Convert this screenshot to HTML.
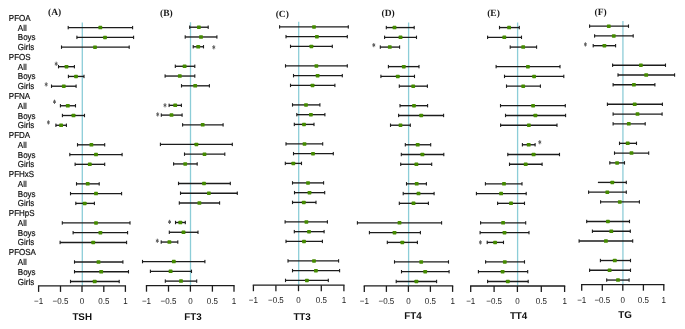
<!DOCTYPE html><html><head><meta charset="utf-8"><style>html,body{margin:0;padding:0;background:#fff;}svg{display:block;will-change:transform;text-rendering:geometricPrecision;}</style></head><body>
<svg width="685" height="329" viewBox="0 0 685 329">
<rect width="685" height="329" fill="#fff"/>
<g font-family="Liberation Sans, sans-serif" font-size="8.0" fill="#111" stroke="#111" stroke-width="0.18">
<text transform="translate(8.8,20.85) scale(1,1.08)">PFOA</text>
<text transform="translate(17.8,30.62) scale(1,1.08)">All</text>
<text transform="translate(17.8,40.38) scale(1,1.08)">Boys</text>
<text transform="translate(17.8,50.14) scale(1,1.08)">Girls</text>
<text transform="translate(8.8,59.91) scale(1,1.08)">PFOS</text>
<text transform="translate(17.8,69.67) scale(1,1.08)">All</text>
<text transform="translate(17.8,79.44) scale(1,1.08)">Boys</text>
<text transform="translate(17.8,89.20) scale(1,1.08)">Girls</text>
<text transform="translate(8.8,98.97) scale(1,1.08)">PFNA</text>
<text transform="translate(17.8,108.73) scale(1,1.08)">All</text>
<text transform="translate(17.8,118.50) scale(1,1.08)">Boys</text>
<text transform="translate(17.8,128.27) scale(1,1.08)">Girls</text>
<text transform="translate(8.8,138.03) scale(1,1.08)">PFDA</text>
<text transform="translate(17.8,147.80) scale(1,1.08)">All</text>
<text transform="translate(17.8,157.56) scale(1,1.08)">Boys</text>
<text transform="translate(17.8,167.33) scale(1,1.08)">Girls</text>
<text transform="translate(8.8,177.09) scale(1,1.08)">PFHxS</text>
<text transform="translate(17.8,186.86) scale(1,1.08)">All</text>
<text transform="translate(17.8,196.62) scale(1,1.08)">Boys</text>
<text transform="translate(17.8,206.39) scale(1,1.08)">Girls</text>
<text transform="translate(8.8,216.15) scale(1,1.08)">PFHpS</text>
<text transform="translate(17.8,225.92) scale(1,1.08)">All</text>
<text transform="translate(17.8,235.68) scale(1,1.08)">Boys</text>
<text transform="translate(17.8,245.45) scale(1,1.08)">Girls</text>
<text transform="translate(8.8,255.21) scale(1,1.08)">PFOSA</text>
<text transform="translate(17.8,264.98) scale(1,1.08)">All</text>
<text transform="translate(17.8,274.74) scale(1,1.08)">Boys</text>
<text transform="translate(17.8,284.51) scale(1,1.08)">Girls</text>
</g>
<line x1="82.30" y1="22.55" x2="82.30" y2="285.90" stroke="#8ccdd8" stroke-width="1.3"/>
<line x1="68.20" y1="27.62" x2="132.60" y2="27.62" stroke="#1c1c1c" stroke-width="1.35"/>
<rect x="67.65" y="25.92" width="1.1" height="3.4" fill="#1c1c1c"/>
<rect x="132.05" y="25.92" width="1.1" height="3.4" fill="#1c1c1c"/>
<rect x="98.40" y="25.87" width="3.8" height="3.5" rx="0.6" fill="#458b00"/>
<line x1="76.90" y1="37.38" x2="133.60" y2="37.38" stroke="#1c1c1c" stroke-width="1.35"/>
<rect x="76.35" y="35.68" width="1.1" height="3.4" fill="#1c1c1c"/>
<rect x="133.05" y="35.68" width="1.1" height="3.4" fill="#1c1c1c"/>
<rect x="103.10" y="35.63" width="3.8" height="3.5" rx="0.6" fill="#458b00"/>
<line x1="61.50" y1="47.15" x2="129.20" y2="47.15" stroke="#1c1c1c" stroke-width="1.35"/>
<rect x="60.95" y="45.45" width="1.1" height="3.4" fill="#1c1c1c"/>
<rect x="128.65" y="45.45" width="1.1" height="3.4" fill="#1c1c1c"/>
<rect x="93.10" y="45.40" width="3.8" height="3.5" rx="0.6" fill="#458b00"/>
<line x1="58.50" y1="66.68" x2="74.40" y2="66.68" stroke="#1c1c1c" stroke-width="1.35"/>
<rect x="57.95" y="64.98" width="1.1" height="3.4" fill="#1c1c1c"/>
<rect x="73.85" y="64.98" width="1.1" height="3.4" fill="#1c1c1c"/>
<rect x="64.60" y="64.93" width="3.8" height="3.5" rx="0.6" fill="#458b00"/>
<line x1="68.40" y1="76.44" x2="84.00" y2="76.44" stroke="#1c1c1c" stroke-width="1.35"/>
<rect x="67.85" y="74.74" width="1.1" height="3.4" fill="#1c1c1c"/>
<rect x="83.45" y="74.74" width="1.1" height="3.4" fill="#1c1c1c"/>
<rect x="74.10" y="74.69" width="3.8" height="3.5" rx="0.6" fill="#458b00"/>
<line x1="51.50" y1="86.21" x2="76.10" y2="86.21" stroke="#1c1c1c" stroke-width="1.35"/>
<rect x="50.95" y="84.51" width="1.1" height="3.4" fill="#1c1c1c"/>
<rect x="75.55" y="84.51" width="1.1" height="3.4" fill="#1c1c1c"/>
<rect x="61.90" y="84.46" width="3.8" height="3.5" rx="0.6" fill="#458b00"/>
<line x1="60.40" y1="105.74" x2="75.50" y2="105.74" stroke="#1c1c1c" stroke-width="1.35"/>
<rect x="59.85" y="104.04" width="1.1" height="3.4" fill="#1c1c1c"/>
<rect x="74.95" y="104.04" width="1.1" height="3.4" fill="#1c1c1c"/>
<rect x="65.90" y="103.99" width="3.8" height="3.5" rx="0.6" fill="#458b00"/>
<line x1="62.40" y1="115.50" x2="84.50" y2="115.50" stroke="#1c1c1c" stroke-width="1.35"/>
<rect x="61.85" y="113.80" width="1.1" height="3.4" fill="#1c1c1c"/>
<rect x="83.95" y="113.80" width="1.1" height="3.4" fill="#1c1c1c"/>
<rect x="71.60" y="113.75" width="3.8" height="3.5" rx="0.6" fill="#458b00"/>
<line x1="55.90" y1="125.27" x2="66.40" y2="125.27" stroke="#1c1c1c" stroke-width="1.35"/>
<rect x="55.35" y="123.57" width="1.1" height="3.4" fill="#1c1c1c"/>
<rect x="65.85" y="123.57" width="1.1" height="3.4" fill="#1c1c1c"/>
<rect x="59.20" y="123.52" width="3.8" height="3.5" rx="0.6" fill="#458b00"/>
<line x1="77.50" y1="144.80" x2="104.70" y2="144.80" stroke="#1c1c1c" stroke-width="1.35"/>
<rect x="76.95" y="143.10" width="1.1" height="3.4" fill="#1c1c1c"/>
<rect x="104.15" y="143.10" width="1.1" height="3.4" fill="#1c1c1c"/>
<rect x="89.50" y="143.05" width="3.8" height="3.5" rx="0.6" fill="#458b00"/>
<line x1="69.80" y1="154.56" x2="122.10" y2="154.56" stroke="#1c1c1c" stroke-width="1.35"/>
<rect x="69.25" y="152.86" width="1.1" height="3.4" fill="#1c1c1c"/>
<rect x="121.55" y="152.86" width="1.1" height="3.4" fill="#1c1c1c"/>
<rect x="94.10" y="152.81" width="3.8" height="3.5" rx="0.6" fill="#458b00"/>
<line x1="75.10" y1="164.33" x2="104.70" y2="164.33" stroke="#1c1c1c" stroke-width="1.35"/>
<rect x="74.55" y="162.63" width="1.1" height="3.4" fill="#1c1c1c"/>
<rect x="104.15" y="162.63" width="1.1" height="3.4" fill="#1c1c1c"/>
<rect x="87.90" y="162.58" width="3.8" height="3.5" rx="0.6" fill="#458b00"/>
<line x1="76.50" y1="183.85" x2="99.20" y2="183.85" stroke="#1c1c1c" stroke-width="1.35"/>
<rect x="75.95" y="182.16" width="1.1" height="3.4" fill="#1c1c1c"/>
<rect x="98.65" y="182.16" width="1.1" height="3.4" fill="#1c1c1c"/>
<rect x="85.80" y="182.10" width="3.8" height="3.5" rx="0.6" fill="#458b00"/>
<line x1="70.50" y1="193.62" x2="121.60" y2="193.62" stroke="#1c1c1c" stroke-width="1.35"/>
<rect x="69.95" y="191.92" width="1.1" height="3.4" fill="#1c1c1c"/>
<rect x="121.05" y="191.92" width="1.1" height="3.4" fill="#1c1c1c"/>
<rect x="94.10" y="191.87" width="3.8" height="3.5" rx="0.6" fill="#458b00"/>
<line x1="75.80" y1="203.39" x2="94.40" y2="203.39" stroke="#1c1c1c" stroke-width="1.35"/>
<rect x="75.25" y="201.69" width="1.1" height="3.4" fill="#1c1c1c"/>
<rect x="93.85" y="201.69" width="1.1" height="3.4" fill="#1c1c1c"/>
<rect x="82.80" y="201.64" width="3.8" height="3.5" rx="0.6" fill="#458b00"/>
<line x1="62.30" y1="222.91" x2="130.00" y2="222.91" stroke="#1c1c1c" stroke-width="1.35"/>
<rect x="61.75" y="221.22" width="1.1" height="3.4" fill="#1c1c1c"/>
<rect x="129.45" y="221.22" width="1.1" height="3.4" fill="#1c1c1c"/>
<rect x="94.10" y="221.16" width="3.8" height="3.5" rx="0.6" fill="#458b00"/>
<line x1="73.10" y1="232.68" x2="127.60" y2="232.68" stroke="#1c1c1c" stroke-width="1.35"/>
<rect x="72.55" y="230.98" width="1.1" height="3.4" fill="#1c1c1c"/>
<rect x="127.05" y="230.98" width="1.1" height="3.4" fill="#1c1c1c"/>
<rect x="98.50" y="230.93" width="3.8" height="3.5" rx="0.6" fill="#458b00"/>
<line x1="60.10" y1="242.45" x2="126.60" y2="242.45" stroke="#1c1c1c" stroke-width="1.35"/>
<rect x="59.55" y="240.75" width="1.1" height="3.4" fill="#1c1c1c"/>
<rect x="126.05" y="240.75" width="1.1" height="3.4" fill="#1c1c1c"/>
<rect x="91.30" y="240.70" width="3.8" height="3.5" rx="0.6" fill="#458b00"/>
<line x1="74.50" y1="261.98" x2="122.90" y2="261.98" stroke="#1c1c1c" stroke-width="1.35"/>
<rect x="73.95" y="260.28" width="1.1" height="3.4" fill="#1c1c1c"/>
<rect x="122.35" y="260.28" width="1.1" height="3.4" fill="#1c1c1c"/>
<rect x="96.60" y="260.23" width="3.8" height="3.5" rx="0.6" fill="#458b00"/>
<line x1="74.50" y1="271.74" x2="128.50" y2="271.74" stroke="#1c1c1c" stroke-width="1.35"/>
<rect x="73.95" y="270.04" width="1.1" height="3.4" fill="#1c1c1c"/>
<rect x="127.95" y="270.04" width="1.1" height="3.4" fill="#1c1c1c"/>
<rect x="99.30" y="269.99" width="3.8" height="3.5" rx="0.6" fill="#458b00"/>
<line x1="70.50" y1="281.51" x2="119.20" y2="281.51" stroke="#1c1c1c" stroke-width="1.35"/>
<rect x="69.95" y="279.81" width="1.1" height="3.4" fill="#1c1c1c"/>
<rect x="118.65" y="279.81" width="1.1" height="3.4" fill="#1c1c1c"/>
<rect x="92.80" y="279.76" width="3.8" height="3.5" rx="0.6" fill="#458b00"/>
<path d="M56.20 61.70L56.20 65.90M54.77 62.97L57.63 64.62M57.63 62.97L54.77 64.62" stroke="#5a5a5a" stroke-width="1.0" fill="none"/>
<path d="M46.20 82.30L46.20 86.50M44.77 83.58L47.63 85.23M47.63 83.58L44.77 85.23" stroke="#5a5a5a" stroke-width="1.0" fill="none"/>
<path d="M54.50 99.70L54.50 103.90M53.07 100.97L55.93 102.62M55.93 100.97L53.07 102.62" stroke="#5a5a5a" stroke-width="1.0" fill="none"/>
<path d="M48.40 120.30L48.40 124.50M46.97 121.58L49.83 123.23M49.83 121.58L46.97 123.23" stroke="#5a5a5a" stroke-width="1.0" fill="none"/>
<line x1="37.95" y1="285.90" x2="126.05" y2="285.90" stroke="#1c1c1c" stroke-width="1.3"/>
<line x1="38.60" y1="285.90" x2="38.60" y2="291.90" stroke="#1c1c1c" stroke-width="1.3"/>
<line x1="60.50" y1="285.90" x2="60.50" y2="291.90" stroke="#1c1c1c" stroke-width="1.3"/>
<line x1="82.00" y1="285.90" x2="82.00" y2="291.90" stroke="#1c1c1c" stroke-width="1.3"/>
<line x1="103.80" y1="285.90" x2="103.80" y2="291.90" stroke="#1c1c1c" stroke-width="1.3"/>
<line x1="125.40" y1="285.90" x2="125.40" y2="291.90" stroke="#1c1c1c" stroke-width="1.3"/>
<text transform="translate(38.60,304.15) scale(1,1.08)" font-family="Liberation Sans, sans-serif" font-size="8.0" fill="#1a1a1a" text-anchor="middle">−1</text>
<text transform="translate(60.50,304.15) scale(1,1.08)" font-family="Liberation Sans, sans-serif" font-size="8.0" fill="#1a1a1a" text-anchor="middle">−0.5</text>
<text transform="translate(82.00,304.15) scale(1,1.08)" font-family="Liberation Sans, sans-serif" font-size="8.0" fill="#1a1a1a" text-anchor="middle">0</text>
<text transform="translate(103.80,304.15) scale(1,1.08)" font-family="Liberation Sans, sans-serif" font-size="8.0" fill="#1a1a1a" text-anchor="middle">0.5</text>
<text transform="translate(125.40,304.15) scale(1,1.08)" font-family="Liberation Sans, sans-serif" font-size="8.0" fill="#1a1a1a" text-anchor="middle">1</text>
<text x="48.00" y="15.35" font-family="Liberation Serif, serif" font-weight="bold" font-size="9.5" fill="#1a1a1a">(A)</text>
<text x="82.20" y="320.00" font-family="Liberation Sans, sans-serif" font-weight="bold" font-size="9.8" fill="#111" text-anchor="middle">TSH</text>
<line x1="190.50" y1="22.15" x2="190.50" y2="285.70" stroke="#8ccdd8" stroke-width="1.3"/>
<line x1="189.70" y1="27.21" x2="208.20" y2="27.21" stroke="#1c1c1c" stroke-width="1.35"/>
<rect x="189.15" y="25.52" width="1.1" height="3.4" fill="#1c1c1c"/>
<rect x="207.65" y="25.52" width="1.1" height="3.4" fill="#1c1c1c"/>
<rect x="197.00" y="25.46" width="3.8" height="3.5" rx="0.6" fill="#458b00"/>
<line x1="185.20" y1="36.98" x2="216.90" y2="36.98" stroke="#1c1c1c" stroke-width="1.35"/>
<rect x="184.65" y="35.28" width="1.1" height="3.4" fill="#1c1c1c"/>
<rect x="216.35" y="35.28" width="1.1" height="3.4" fill="#1c1c1c"/>
<rect x="199.10" y="35.23" width="3.8" height="3.5" rx="0.6" fill="#458b00"/>
<line x1="193.20" y1="46.75" x2="203.50" y2="46.75" stroke="#1c1c1c" stroke-width="1.35"/>
<rect x="192.65" y="45.05" width="1.1" height="3.4" fill="#1c1c1c"/>
<rect x="202.95" y="45.05" width="1.1" height="3.4" fill="#1c1c1c"/>
<rect x="196.30" y="45.00" width="3.8" height="3.5" rx="0.6" fill="#458b00"/>
<line x1="175.30" y1="66.28" x2="194.80" y2="66.28" stroke="#1c1c1c" stroke-width="1.35"/>
<rect x="174.75" y="64.58" width="1.1" height="3.4" fill="#1c1c1c"/>
<rect x="194.25" y="64.58" width="1.1" height="3.4" fill="#1c1c1c"/>
<rect x="182.70" y="64.53" width="3.8" height="3.5" rx="0.6" fill="#458b00"/>
<line x1="165.10" y1="76.04" x2="194.80" y2="76.04" stroke="#1c1c1c" stroke-width="1.35"/>
<rect x="164.55" y="74.34" width="1.1" height="3.4" fill="#1c1c1c"/>
<rect x="194.25" y="74.34" width="1.1" height="3.4" fill="#1c1c1c"/>
<rect x="177.90" y="74.29" width="3.8" height="3.5" rx="0.6" fill="#458b00"/>
<line x1="181.50" y1="85.81" x2="209.40" y2="85.81" stroke="#1c1c1c" stroke-width="1.35"/>
<rect x="180.95" y="84.11" width="1.1" height="3.4" fill="#1c1c1c"/>
<rect x="208.85" y="84.11" width="1.1" height="3.4" fill="#1c1c1c"/>
<rect x="193.30" y="84.06" width="3.8" height="3.5" rx="0.6" fill="#458b00"/>
<line x1="169.10" y1="105.34" x2="181.40" y2="105.34" stroke="#1c1c1c" stroke-width="1.35"/>
<rect x="168.55" y="103.64" width="1.1" height="3.4" fill="#1c1c1c"/>
<rect x="180.85" y="103.64" width="1.1" height="3.4" fill="#1c1c1c"/>
<rect x="173.30" y="103.59" width="3.8" height="3.5" rx="0.6" fill="#458b00"/>
<line x1="161.30" y1="115.10" x2="182.10" y2="115.10" stroke="#1c1c1c" stroke-width="1.35"/>
<rect x="160.75" y="113.40" width="1.1" height="3.4" fill="#1c1c1c"/>
<rect x="181.55" y="113.40" width="1.1" height="3.4" fill="#1c1c1c"/>
<rect x="169.60" y="113.35" width="3.8" height="3.5" rx="0.6" fill="#458b00"/>
<line x1="182.60" y1="124.87" x2="223.10" y2="124.87" stroke="#1c1c1c" stroke-width="1.35"/>
<rect x="182.05" y="123.17" width="1.1" height="3.4" fill="#1c1c1c"/>
<rect x="222.55" y="123.17" width="1.1" height="3.4" fill="#1c1c1c"/>
<rect x="200.80" y="123.12" width="3.8" height="3.5" rx="0.6" fill="#458b00"/>
<line x1="160.40" y1="144.40" x2="232.30" y2="144.40" stroke="#1c1c1c" stroke-width="1.35"/>
<rect x="159.85" y="142.70" width="1.1" height="3.4" fill="#1c1c1c"/>
<rect x="231.75" y="142.70" width="1.1" height="3.4" fill="#1c1c1c"/>
<rect x="194.50" y="142.65" width="3.8" height="3.5" rx="0.6" fill="#458b00"/>
<line x1="184.50" y1="154.16" x2="224.80" y2="154.16" stroke="#1c1c1c" stroke-width="1.35"/>
<rect x="183.95" y="152.46" width="1.1" height="3.4" fill="#1c1c1c"/>
<rect x="224.25" y="152.46" width="1.1" height="3.4" fill="#1c1c1c"/>
<rect x="202.60" y="152.41" width="3.8" height="3.5" rx="0.6" fill="#458b00"/>
<line x1="173.60" y1="163.93" x2="197.20" y2="163.93" stroke="#1c1c1c" stroke-width="1.35"/>
<rect x="173.05" y="162.23" width="1.1" height="3.4" fill="#1c1c1c"/>
<rect x="196.65" y="162.23" width="1.1" height="3.4" fill="#1c1c1c"/>
<rect x="183.30" y="162.18" width="3.8" height="3.5" rx="0.6" fill="#458b00"/>
<line x1="178.50" y1="183.45" x2="230.30" y2="183.45" stroke="#1c1c1c" stroke-width="1.35"/>
<rect x="177.95" y="181.75" width="1.1" height="3.4" fill="#1c1c1c"/>
<rect x="229.75" y="181.75" width="1.1" height="3.4" fill="#1c1c1c"/>
<rect x="202.10" y="181.70" width="3.8" height="3.5" rx="0.6" fill="#458b00"/>
<line x1="180.50" y1="193.22" x2="237.30" y2="193.22" stroke="#1c1c1c" stroke-width="1.35"/>
<rect x="179.95" y="191.52" width="1.1" height="3.4" fill="#1c1c1c"/>
<rect x="236.75" y="191.52" width="1.1" height="3.4" fill="#1c1c1c"/>
<rect x="207.00" y="191.47" width="3.8" height="3.5" rx="0.6" fill="#458b00"/>
<line x1="179.30" y1="202.99" x2="219.60" y2="202.99" stroke="#1c1c1c" stroke-width="1.35"/>
<rect x="178.75" y="201.29" width="1.1" height="3.4" fill="#1c1c1c"/>
<rect x="219.05" y="201.29" width="1.1" height="3.4" fill="#1c1c1c"/>
<rect x="197.50" y="201.24" width="3.8" height="3.5" rx="0.6" fill="#458b00"/>
<line x1="175.50" y1="222.51" x2="185.30" y2="222.51" stroke="#1c1c1c" stroke-width="1.35"/>
<rect x="174.95" y="220.81" width="1.1" height="3.4" fill="#1c1c1c"/>
<rect x="184.75" y="220.81" width="1.1" height="3.4" fill="#1c1c1c"/>
<rect x="178.40" y="220.76" width="3.8" height="3.5" rx="0.6" fill="#458b00"/>
<line x1="169.30" y1="232.28" x2="198.00" y2="232.28" stroke="#1c1c1c" stroke-width="1.35"/>
<rect x="168.75" y="230.58" width="1.1" height="3.4" fill="#1c1c1c"/>
<rect x="197.45" y="230.58" width="1.1" height="3.4" fill="#1c1c1c"/>
<rect x="181.60" y="230.53" width="3.8" height="3.5" rx="0.6" fill="#458b00"/>
<line x1="161.20" y1="242.05" x2="177.80" y2="242.05" stroke="#1c1c1c" stroke-width="1.35"/>
<rect x="160.65" y="240.35" width="1.1" height="3.4" fill="#1c1c1c"/>
<rect x="177.25" y="240.35" width="1.1" height="3.4" fill="#1c1c1c"/>
<rect x="167.50" y="240.30" width="3.8" height="3.5" rx="0.6" fill="#458b00"/>
<line x1="142.50" y1="261.57" x2="204.90" y2="261.57" stroke="#1c1c1c" stroke-width="1.35"/>
<rect x="141.95" y="259.88" width="1.1" height="3.4" fill="#1c1c1c"/>
<rect x="204.35" y="259.88" width="1.1" height="3.4" fill="#1c1c1c"/>
<rect x="171.90" y="259.82" width="3.8" height="3.5" rx="0.6" fill="#458b00"/>
<line x1="150.40" y1="271.34" x2="191.50" y2="271.34" stroke="#1c1c1c" stroke-width="1.35"/>
<rect x="149.85" y="269.64" width="1.1" height="3.4" fill="#1c1c1c"/>
<rect x="190.95" y="269.64" width="1.1" height="3.4" fill="#1c1c1c"/>
<rect x="168.70" y="269.59" width="3.8" height="3.5" rx="0.6" fill="#458b00"/>
<line x1="165.30" y1="281.11" x2="196.70" y2="281.11" stroke="#1c1c1c" stroke-width="1.35"/>
<rect x="164.75" y="279.41" width="1.1" height="3.4" fill="#1c1c1c"/>
<rect x="196.15" y="279.41" width="1.1" height="3.4" fill="#1c1c1c"/>
<rect x="179.10" y="279.36" width="3.8" height="3.5" rx="0.6" fill="#458b00"/>
<path d="M213.80 45.20L213.80 49.40M212.37 46.47L215.23 48.12M215.23 46.47L212.37 48.12" stroke="#5a5a5a" stroke-width="1.0" fill="none"/>
<path d="M165.00 103.20L165.00 107.40M163.57 104.47L166.43 106.12M166.43 104.47L163.57 106.12" stroke="#5a5a5a" stroke-width="1.0" fill="none"/>
<path d="M157.70 112.30L157.70 116.50M156.27 113.58L159.13 115.23M159.13 113.58L156.27 115.23" stroke="#5a5a5a" stroke-width="1.0" fill="none"/>
<path d="M169.60 219.80L169.60 224.00M168.17 221.08L171.03 222.72M171.03 221.08L168.17 222.72" stroke="#5a5a5a" stroke-width="1.0" fill="none"/>
<path d="M157.30 238.70L157.30 242.90M155.87 239.98L158.73 241.62M158.73 239.98L155.87 241.62" stroke="#5a5a5a" stroke-width="1.0" fill="none"/>
<line x1="145.85" y1="285.70" x2="234.65" y2="285.70" stroke="#1c1c1c" stroke-width="1.3"/>
<line x1="146.50" y1="285.70" x2="146.50" y2="291.70" stroke="#1c1c1c" stroke-width="1.3"/>
<line x1="168.50" y1="285.70" x2="168.50" y2="291.70" stroke="#1c1c1c" stroke-width="1.3"/>
<line x1="190.40" y1="285.70" x2="190.40" y2="291.70" stroke="#1c1c1c" stroke-width="1.3"/>
<line x1="212.40" y1="285.70" x2="212.40" y2="291.70" stroke="#1c1c1c" stroke-width="1.3"/>
<line x1="234.00" y1="285.70" x2="234.00" y2="291.70" stroke="#1c1c1c" stroke-width="1.3"/>
<text transform="translate(146.50,303.95) scale(1,1.08)" font-family="Liberation Sans, sans-serif" font-size="8.0" fill="#1a1a1a" text-anchor="middle">−1</text>
<text transform="translate(168.50,303.95) scale(1,1.08)" font-family="Liberation Sans, sans-serif" font-size="8.0" fill="#1a1a1a" text-anchor="middle">−0.5</text>
<text transform="translate(190.40,303.95) scale(1,1.08)" font-family="Liberation Sans, sans-serif" font-size="8.0" fill="#1a1a1a" text-anchor="middle">0</text>
<text transform="translate(212.40,303.95) scale(1,1.08)" font-family="Liberation Sans, sans-serif" font-size="8.0" fill="#1a1a1a" text-anchor="middle">0.5</text>
<text transform="translate(234.00,303.95) scale(1,1.08)" font-family="Liberation Sans, sans-serif" font-size="8.0" fill="#1a1a1a" text-anchor="middle">1</text>
<text x="160.00" y="15.85" font-family="Liberation Serif, serif" font-weight="bold" font-size="9.5" fill="#1a1a1a">(B)</text>
<text x="193.00" y="320.20" font-family="Liberation Sans, sans-serif" font-weight="bold" font-size="9.8" fill="#111" text-anchor="middle">FT3</text>
<line x1="298.70" y1="21.85" x2="298.70" y2="285.20" stroke="#8ccdd8" stroke-width="1.3"/>
<line x1="279.60" y1="26.90" x2="348.30" y2="26.90" stroke="#1c1c1c" stroke-width="1.35"/>
<rect x="279.05" y="25.20" width="1.1" height="3.4" fill="#1c1c1c"/>
<rect x="347.75" y="25.20" width="1.1" height="3.4" fill="#1c1c1c"/>
<rect x="312.10" y="25.15" width="3.8" height="3.5" rx="0.6" fill="#458b00"/>
<line x1="286.00" y1="36.65" x2="347.30" y2="36.65" stroke="#1c1c1c" stroke-width="1.35"/>
<rect x="285.45" y="34.95" width="1.1" height="3.4" fill="#1c1c1c"/>
<rect x="346.75" y="34.95" width="1.1" height="3.4" fill="#1c1c1c"/>
<rect x="315.00" y="34.90" width="3.8" height="3.5" rx="0.6" fill="#458b00"/>
<line x1="290.50" y1="46.40" x2="332.30" y2="46.40" stroke="#1c1c1c" stroke-width="1.35"/>
<rect x="289.95" y="44.70" width="1.1" height="3.4" fill="#1c1c1c"/>
<rect x="331.75" y="44.70" width="1.1" height="3.4" fill="#1c1c1c"/>
<rect x="309.50" y="44.65" width="3.8" height="3.5" rx="0.6" fill="#458b00"/>
<line x1="285.50" y1="65.90" x2="347.30" y2="65.90" stroke="#1c1c1c" stroke-width="1.35"/>
<rect x="284.95" y="64.20" width="1.1" height="3.4" fill="#1c1c1c"/>
<rect x="346.75" y="64.20" width="1.1" height="3.4" fill="#1c1c1c"/>
<rect x="314.50" y="64.15" width="3.8" height="3.5" rx="0.6" fill="#458b00"/>
<line x1="293.50" y1="75.65" x2="342.30" y2="75.65" stroke="#1c1c1c" stroke-width="1.35"/>
<rect x="292.95" y="73.95" width="1.1" height="3.4" fill="#1c1c1c"/>
<rect x="341.75" y="73.95" width="1.1" height="3.4" fill="#1c1c1c"/>
<rect x="315.70" y="73.90" width="3.8" height="3.5" rx="0.6" fill="#458b00"/>
<line x1="290.50" y1="85.40" x2="334.90" y2="85.40" stroke="#1c1c1c" stroke-width="1.35"/>
<rect x="289.95" y="83.70" width="1.1" height="3.4" fill="#1c1c1c"/>
<rect x="334.35" y="83.70" width="1.1" height="3.4" fill="#1c1c1c"/>
<rect x="310.60" y="83.65" width="3.8" height="3.5" rx="0.6" fill="#458b00"/>
<line x1="292.50" y1="104.90" x2="319.90" y2="104.90" stroke="#1c1c1c" stroke-width="1.35"/>
<rect x="291.95" y="103.20" width="1.1" height="3.4" fill="#1c1c1c"/>
<rect x="319.35" y="103.20" width="1.1" height="3.4" fill="#1c1c1c"/>
<rect x="304.10" y="103.15" width="3.8" height="3.5" rx="0.6" fill="#458b00"/>
<line x1="296.80" y1="114.65" x2="324.90" y2="114.65" stroke="#1c1c1c" stroke-width="1.35"/>
<rect x="296.25" y="112.95" width="1.1" height="3.4" fill="#1c1c1c"/>
<rect x="324.35" y="112.95" width="1.1" height="3.4" fill="#1c1c1c"/>
<rect x="309.00" y="112.90" width="3.8" height="3.5" rx="0.6" fill="#458b00"/>
<line x1="294.30" y1="124.40" x2="314.00" y2="124.40" stroke="#1c1c1c" stroke-width="1.35"/>
<rect x="293.75" y="122.70" width="1.1" height="3.4" fill="#1c1c1c"/>
<rect x="313.45" y="122.70" width="1.1" height="3.4" fill="#1c1c1c"/>
<rect x="302.10" y="122.65" width="3.8" height="3.5" rx="0.6" fill="#458b00"/>
<line x1="286.00" y1="143.90" x2="322.70" y2="143.90" stroke="#1c1c1c" stroke-width="1.35"/>
<rect x="285.45" y="142.20" width="1.1" height="3.4" fill="#1c1c1c"/>
<rect x="322.15" y="142.20" width="1.1" height="3.4" fill="#1c1c1c"/>
<rect x="302.60" y="142.15" width="3.8" height="3.5" rx="0.6" fill="#458b00"/>
<line x1="293.50" y1="153.65" x2="333.30" y2="153.65" stroke="#1c1c1c" stroke-width="1.35"/>
<rect x="292.95" y="151.95" width="1.1" height="3.4" fill="#1c1c1c"/>
<rect x="332.75" y="151.95" width="1.1" height="3.4" fill="#1c1c1c"/>
<rect x="311.10" y="151.90" width="3.8" height="3.5" rx="0.6" fill="#458b00"/>
<line x1="285.30" y1="163.40" x2="301.50" y2="163.40" stroke="#1c1c1c" stroke-width="1.35"/>
<rect x="284.75" y="161.70" width="1.1" height="3.4" fill="#1c1c1c"/>
<rect x="300.95" y="161.70" width="1.1" height="3.4" fill="#1c1c1c"/>
<rect x="291.40" y="161.65" width="3.8" height="3.5" rx="0.6" fill="#458b00"/>
<line x1="292.50" y1="182.90" x2="323.60" y2="182.90" stroke="#1c1c1c" stroke-width="1.35"/>
<rect x="291.95" y="181.20" width="1.1" height="3.4" fill="#1c1c1c"/>
<rect x="323.05" y="181.20" width="1.1" height="3.4" fill="#1c1c1c"/>
<rect x="306.10" y="181.15" width="3.8" height="3.5" rx="0.6" fill="#458b00"/>
<line x1="294.50" y1="192.65" x2="324.70" y2="192.65" stroke="#1c1c1c" stroke-width="1.35"/>
<rect x="293.95" y="190.95" width="1.1" height="3.4" fill="#1c1c1c"/>
<rect x="324.15" y="190.95" width="1.1" height="3.4" fill="#1c1c1c"/>
<rect x="307.60" y="190.90" width="3.8" height="3.5" rx="0.6" fill="#458b00"/>
<line x1="292.50" y1="202.40" x2="316.00" y2="202.40" stroke="#1c1c1c" stroke-width="1.35"/>
<rect x="291.95" y="200.70" width="1.1" height="3.4" fill="#1c1c1c"/>
<rect x="315.45" y="200.70" width="1.1" height="3.4" fill="#1c1c1c"/>
<rect x="301.90" y="200.65" width="3.8" height="3.5" rx="0.6" fill="#458b00"/>
<line x1="285.10" y1="221.90" x2="327.40" y2="221.90" stroke="#1c1c1c" stroke-width="1.35"/>
<rect x="284.55" y="220.20" width="1.1" height="3.4" fill="#1c1c1c"/>
<rect x="326.85" y="220.20" width="1.1" height="3.4" fill="#1c1c1c"/>
<rect x="304.50" y="220.15" width="3.8" height="3.5" rx="0.6" fill="#458b00"/>
<line x1="294.30" y1="231.65" x2="324.10" y2="231.65" stroke="#1c1c1c" stroke-width="1.35"/>
<rect x="293.75" y="229.95" width="1.1" height="3.4" fill="#1c1c1c"/>
<rect x="323.55" y="229.95" width="1.1" height="3.4" fill="#1c1c1c"/>
<rect x="307.10" y="229.90" width="3.8" height="3.5" rx="0.6" fill="#458b00"/>
<line x1="286.00" y1="241.40" x2="322.40" y2="241.40" stroke="#1c1c1c" stroke-width="1.35"/>
<rect x="285.45" y="239.70" width="1.1" height="3.4" fill="#1c1c1c"/>
<rect x="321.85" y="239.70" width="1.1" height="3.4" fill="#1c1c1c"/>
<rect x="302.10" y="239.65" width="3.8" height="3.5" rx="0.6" fill="#458b00"/>
<line x1="288.00" y1="260.90" x2="338.60" y2="260.90" stroke="#1c1c1c" stroke-width="1.35"/>
<rect x="287.45" y="259.20" width="1.1" height="3.4" fill="#1c1c1c"/>
<rect x="338.05" y="259.20" width="1.1" height="3.4" fill="#1c1c1c"/>
<rect x="312.10" y="259.15" width="3.8" height="3.5" rx="0.6" fill="#458b00"/>
<line x1="292.50" y1="270.65" x2="339.60" y2="270.65" stroke="#1c1c1c" stroke-width="1.35"/>
<rect x="291.95" y="268.95" width="1.1" height="3.4" fill="#1c1c1c"/>
<rect x="339.05" y="268.95" width="1.1" height="3.4" fill="#1c1c1c"/>
<rect x="314.00" y="268.90" width="3.8" height="3.5" rx="0.6" fill="#458b00"/>
<line x1="285.50" y1="280.40" x2="328.30" y2="280.40" stroke="#1c1c1c" stroke-width="1.35"/>
<rect x="284.95" y="278.70" width="1.1" height="3.4" fill="#1c1c1c"/>
<rect x="327.75" y="278.70" width="1.1" height="3.4" fill="#1c1c1c"/>
<rect x="305.00" y="278.65" width="3.8" height="3.5" rx="0.6" fill="#458b00"/>
<line x1="252.75" y1="285.20" x2="344.55" y2="285.20" stroke="#1c1c1c" stroke-width="1.3"/>
<line x1="253.40" y1="285.20" x2="253.40" y2="291.20" stroke="#1c1c1c" stroke-width="1.3"/>
<line x1="275.90" y1="285.20" x2="275.90" y2="291.20" stroke="#1c1c1c" stroke-width="1.3"/>
<line x1="298.50" y1="285.20" x2="298.50" y2="291.20" stroke="#1c1c1c" stroke-width="1.3"/>
<line x1="321.30" y1="285.20" x2="321.30" y2="291.20" stroke="#1c1c1c" stroke-width="1.3"/>
<line x1="343.90" y1="285.20" x2="343.90" y2="291.20" stroke="#1c1c1c" stroke-width="1.3"/>
<text transform="translate(253.40,303.45) scale(1,1.08)" font-family="Liberation Sans, sans-serif" font-size="8.0" fill="#1a1a1a" text-anchor="middle">−1</text>
<text transform="translate(275.90,303.45) scale(1,1.08)" font-family="Liberation Sans, sans-serif" font-size="8.0" fill="#1a1a1a" text-anchor="middle">−0.5</text>
<text transform="translate(298.50,303.45) scale(1,1.08)" font-family="Liberation Sans, sans-serif" font-size="8.0" fill="#1a1a1a" text-anchor="middle">0</text>
<text transform="translate(321.30,303.45) scale(1,1.08)" font-family="Liberation Sans, sans-serif" font-size="8.0" fill="#1a1a1a" text-anchor="middle">0.5</text>
<text transform="translate(343.90,303.45) scale(1,1.08)" font-family="Liberation Sans, sans-serif" font-size="8.0" fill="#1a1a1a" text-anchor="middle">1</text>
<text x="275.70" y="16.85" font-family="Liberation Serif, serif" font-weight="bold" font-size="9.5" fill="#1a1a1a">(C)</text>
<text x="302.10" y="319.90" font-family="Liberation Sans, sans-serif" font-weight="bold" font-size="9.8" fill="#111" text-anchor="middle">TT3</text>
<line x1="408.60" y1="22.50" x2="408.60" y2="285.90" stroke="#8ccdd8" stroke-width="1.3"/>
<line x1="386.30" y1="27.57" x2="414.20" y2="27.57" stroke="#1c1c1c" stroke-width="1.35"/>
<rect x="385.75" y="25.87" width="1.1" height="3.4" fill="#1c1c1c"/>
<rect x="413.65" y="25.87" width="1.1" height="3.4" fill="#1c1c1c"/>
<rect x="392.60" y="25.82" width="3.8" height="3.5" rx="0.6" fill="#458b00"/>
<line x1="384.60" y1="37.33" x2="416.50" y2="37.33" stroke="#1c1c1c" stroke-width="1.35"/>
<rect x="384.05" y="35.63" width="1.1" height="3.4" fill="#1c1c1c"/>
<rect x="415.95" y="35.63" width="1.1" height="3.4" fill="#1c1c1c"/>
<rect x="398.60" y="35.58" width="3.8" height="3.5" rx="0.6" fill="#458b00"/>
<line x1="380.30" y1="47.09" x2="399.60" y2="47.09" stroke="#1c1c1c" stroke-width="1.35"/>
<rect x="379.75" y="45.39" width="1.1" height="3.4" fill="#1c1c1c"/>
<rect x="399.05" y="45.39" width="1.1" height="3.4" fill="#1c1c1c"/>
<rect x="387.90" y="45.34" width="3.8" height="3.5" rx="0.6" fill="#458b00"/>
<line x1="388.40" y1="66.62" x2="419.00" y2="66.62" stroke="#1c1c1c" stroke-width="1.35"/>
<rect x="387.85" y="64.92" width="1.1" height="3.4" fill="#1c1c1c"/>
<rect x="418.45" y="64.92" width="1.1" height="3.4" fill="#1c1c1c"/>
<rect x="401.90" y="64.88" width="3.8" height="3.5" rx="0.6" fill="#458b00"/>
<line x1="380.90" y1="76.39" x2="414.50" y2="76.39" stroke="#1c1c1c" stroke-width="1.35"/>
<rect x="380.35" y="74.69" width="1.1" height="3.4" fill="#1c1c1c"/>
<rect x="413.95" y="74.69" width="1.1" height="3.4" fill="#1c1c1c"/>
<rect x="395.90" y="74.64" width="3.8" height="3.5" rx="0.6" fill="#458b00"/>
<line x1="399.30" y1="86.16" x2="427.40" y2="86.16" stroke="#1c1c1c" stroke-width="1.35"/>
<rect x="398.75" y="84.45" width="1.1" height="3.4" fill="#1c1c1c"/>
<rect x="426.85" y="84.45" width="1.1" height="3.4" fill="#1c1c1c"/>
<rect x="411.30" y="84.41" width="3.8" height="3.5" rx="0.6" fill="#458b00"/>
<line x1="400.00" y1="105.69" x2="427.60" y2="105.69" stroke="#1c1c1c" stroke-width="1.35"/>
<rect x="399.45" y="103.98" width="1.1" height="3.4" fill="#1c1c1c"/>
<rect x="427.05" y="103.98" width="1.1" height="3.4" fill="#1c1c1c"/>
<rect x="412.10" y="103.94" width="3.8" height="3.5" rx="0.6" fill="#458b00"/>
<line x1="398.60" y1="115.45" x2="443.60" y2="115.45" stroke="#1c1c1c" stroke-width="1.35"/>
<rect x="398.05" y="113.75" width="1.1" height="3.4" fill="#1c1c1c"/>
<rect x="443.05" y="113.75" width="1.1" height="3.4" fill="#1c1c1c"/>
<rect x="419.30" y="113.70" width="3.8" height="3.5" rx="0.6" fill="#458b00"/>
<line x1="390.50" y1="125.22" x2="410.30" y2="125.22" stroke="#1c1c1c" stroke-width="1.35"/>
<rect x="389.95" y="123.52" width="1.1" height="3.4" fill="#1c1c1c"/>
<rect x="409.75" y="123.52" width="1.1" height="3.4" fill="#1c1c1c"/>
<rect x="398.60" y="123.47" width="3.8" height="3.5" rx="0.6" fill="#458b00"/>
<line x1="405.30" y1="144.75" x2="430.70" y2="144.75" stroke="#1c1c1c" stroke-width="1.35"/>
<rect x="404.75" y="143.05" width="1.1" height="3.4" fill="#1c1c1c"/>
<rect x="430.15" y="143.05" width="1.1" height="3.4" fill="#1c1c1c"/>
<rect x="415.80" y="143.00" width="3.8" height="3.5" rx="0.6" fill="#458b00"/>
<line x1="401.30" y1="154.51" x2="443.80" y2="154.51" stroke="#1c1c1c" stroke-width="1.35"/>
<rect x="400.75" y="152.81" width="1.1" height="3.4" fill="#1c1c1c"/>
<rect x="443.25" y="152.81" width="1.1" height="3.4" fill="#1c1c1c"/>
<rect x="420.50" y="152.76" width="3.8" height="3.5" rx="0.6" fill="#458b00"/>
<line x1="400.70" y1="164.28" x2="431.70" y2="164.28" stroke="#1c1c1c" stroke-width="1.35"/>
<rect x="400.15" y="162.58" width="1.1" height="3.4" fill="#1c1c1c"/>
<rect x="431.15" y="162.58" width="1.1" height="3.4" fill="#1c1c1c"/>
<rect x="414.50" y="162.53" width="3.8" height="3.5" rx="0.6" fill="#458b00"/>
<line x1="406.50" y1="183.81" x2="426.40" y2="183.81" stroke="#1c1c1c" stroke-width="1.35"/>
<rect x="405.95" y="182.11" width="1.1" height="3.4" fill="#1c1c1c"/>
<rect x="425.85" y="182.11" width="1.1" height="3.4" fill="#1c1c1c"/>
<rect x="414.80" y="182.06" width="3.8" height="3.5" rx="0.6" fill="#458b00"/>
<line x1="403.20" y1="193.57" x2="434.10" y2="193.57" stroke="#1c1c1c" stroke-width="1.35"/>
<rect x="402.65" y="191.87" width="1.1" height="3.4" fill="#1c1c1c"/>
<rect x="433.55" y="191.87" width="1.1" height="3.4" fill="#1c1c1c"/>
<rect x="416.60" y="191.82" width="3.8" height="3.5" rx="0.6" fill="#458b00"/>
<line x1="399.30" y1="203.34" x2="428.40" y2="203.34" stroke="#1c1c1c" stroke-width="1.35"/>
<rect x="398.75" y="201.64" width="1.1" height="3.4" fill="#1c1c1c"/>
<rect x="427.85" y="201.64" width="1.1" height="3.4" fill="#1c1c1c"/>
<rect x="411.60" y="201.59" width="3.8" height="3.5" rx="0.6" fill="#458b00"/>
<line x1="357.40" y1="222.87" x2="441.60" y2="222.87" stroke="#1c1c1c" stroke-width="1.35"/>
<rect x="356.85" y="221.17" width="1.1" height="3.4" fill="#1c1c1c"/>
<rect x="441.05" y="221.17" width="1.1" height="3.4" fill="#1c1c1c"/>
<rect x="397.60" y="221.12" width="3.8" height="3.5" rx="0.6" fill="#458b00"/>
<line x1="369.40" y1="232.63" x2="420.40" y2="232.63" stroke="#1c1c1c" stroke-width="1.35"/>
<rect x="368.85" y="230.93" width="1.1" height="3.4" fill="#1c1c1c"/>
<rect x="419.85" y="230.93" width="1.1" height="3.4" fill="#1c1c1c"/>
<rect x="392.60" y="230.88" width="3.8" height="3.5" rx="0.6" fill="#458b00"/>
<line x1="387.30" y1="242.40" x2="417.40" y2="242.40" stroke="#1c1c1c" stroke-width="1.35"/>
<rect x="386.75" y="240.70" width="1.1" height="3.4" fill="#1c1c1c"/>
<rect x="416.85" y="240.70" width="1.1" height="3.4" fill="#1c1c1c"/>
<rect x="400.40" y="240.65" width="3.8" height="3.5" rx="0.6" fill="#458b00"/>
<line x1="394.50" y1="261.93" x2="448.50" y2="261.93" stroke="#1c1c1c" stroke-width="1.35"/>
<rect x="393.95" y="260.23" width="1.1" height="3.4" fill="#1c1c1c"/>
<rect x="447.95" y="260.23" width="1.1" height="3.4" fill="#1c1c1c"/>
<rect x="419.30" y="260.18" width="3.8" height="3.5" rx="0.6" fill="#458b00"/>
<line x1="401.50" y1="271.69" x2="449.10" y2="271.69" stroke="#1c1c1c" stroke-width="1.35"/>
<rect x="400.95" y="269.99" width="1.1" height="3.4" fill="#1c1c1c"/>
<rect x="448.55" y="269.99" width="1.1" height="3.4" fill="#1c1c1c"/>
<rect x="423.30" y="269.94" width="3.8" height="3.5" rx="0.6" fill="#458b00"/>
<line x1="396.20" y1="281.46" x2="436.60" y2="281.46" stroke="#1c1c1c" stroke-width="1.35"/>
<rect x="395.65" y="279.76" width="1.1" height="3.4" fill="#1c1c1c"/>
<rect x="436.05" y="279.76" width="1.1" height="3.4" fill="#1c1c1c"/>
<rect x="414.50" y="279.71" width="3.8" height="3.5" rx="0.6" fill="#458b00"/>
<path d="M373.80 43.00L373.80 47.20M372.37 44.27L375.23 45.93M375.23 44.27L372.37 45.93" stroke="#5a5a5a" stroke-width="1.0" fill="none"/>
<line x1="363.65" y1="285.90" x2="453.25" y2="285.90" stroke="#1c1c1c" stroke-width="1.3"/>
<line x1="364.30" y1="285.90" x2="364.30" y2="291.90" stroke="#1c1c1c" stroke-width="1.3"/>
<line x1="386.40" y1="285.90" x2="386.40" y2="291.90" stroke="#1c1c1c" stroke-width="1.3"/>
<line x1="408.40" y1="285.90" x2="408.40" y2="291.90" stroke="#1c1c1c" stroke-width="1.3"/>
<line x1="430.40" y1="285.90" x2="430.40" y2="291.90" stroke="#1c1c1c" stroke-width="1.3"/>
<line x1="452.60" y1="285.90" x2="452.60" y2="291.90" stroke="#1c1c1c" stroke-width="1.3"/>
<text transform="translate(364.30,304.15) scale(1,1.08)" font-family="Liberation Sans, sans-serif" font-size="8.0" fill="#1a1a1a" text-anchor="middle">−1</text>
<text transform="translate(386.40,304.15) scale(1,1.08)" font-family="Liberation Sans, sans-serif" font-size="8.0" fill="#1a1a1a" text-anchor="middle">−0.5</text>
<text transform="translate(408.40,304.15) scale(1,1.08)" font-family="Liberation Sans, sans-serif" font-size="8.0" fill="#1a1a1a" text-anchor="middle">0</text>
<text transform="translate(430.40,304.15) scale(1,1.08)" font-family="Liberation Sans, sans-serif" font-size="8.0" fill="#1a1a1a" text-anchor="middle">0.5</text>
<text transform="translate(452.60,304.15) scale(1,1.08)" font-family="Liberation Sans, sans-serif" font-size="8.0" fill="#1a1a1a" text-anchor="middle">1</text>
<text x="381.50" y="16.25" font-family="Liberation Serif, serif" font-weight="bold" font-size="9.5" fill="#1a1a1a">(D)</text>
<text x="413.00" y="319.40" font-family="Liberation Sans, sans-serif" font-weight="bold" font-size="9.8" fill="#111" text-anchor="middle">FT4</text>
<line x1="517.60" y1="22.50" x2="517.60" y2="286.00" stroke="#8ccdd8" stroke-width="1.3"/>
<line x1="499.50" y1="27.57" x2="519.30" y2="27.57" stroke="#1c1c1c" stroke-width="1.35"/>
<rect x="498.95" y="25.87" width="1.1" height="3.4" fill="#1c1c1c"/>
<rect x="518.75" y="25.87" width="1.1" height="3.4" fill="#1c1c1c"/>
<rect x="507.20" y="25.82" width="3.8" height="3.5" rx="0.6" fill="#458b00"/>
<line x1="487.60" y1="37.33" x2="521.50" y2="37.33" stroke="#1c1c1c" stroke-width="1.35"/>
<rect x="487.05" y="35.63" width="1.1" height="3.4" fill="#1c1c1c"/>
<rect x="520.95" y="35.63" width="1.1" height="3.4" fill="#1c1c1c"/>
<rect x="502.40" y="35.58" width="3.8" height="3.5" rx="0.6" fill="#458b00"/>
<line x1="510.20" y1="47.09" x2="536.60" y2="47.09" stroke="#1c1c1c" stroke-width="1.35"/>
<rect x="509.65" y="45.39" width="1.1" height="3.4" fill="#1c1c1c"/>
<rect x="536.05" y="45.39" width="1.1" height="3.4" fill="#1c1c1c"/>
<rect x="521.30" y="45.34" width="3.8" height="3.5" rx="0.6" fill="#458b00"/>
<line x1="496.10" y1="66.62" x2="560.00" y2="66.62" stroke="#1c1c1c" stroke-width="1.35"/>
<rect x="495.55" y="64.92" width="1.1" height="3.4" fill="#1c1c1c"/>
<rect x="559.45" y="64.92" width="1.1" height="3.4" fill="#1c1c1c"/>
<rect x="526.00" y="64.88" width="3.8" height="3.5" rx="0.6" fill="#458b00"/>
<line x1="504.50" y1="76.39" x2="563.80" y2="76.39" stroke="#1c1c1c" stroke-width="1.35"/>
<rect x="503.95" y="74.69" width="1.1" height="3.4" fill="#1c1c1c"/>
<rect x="563.25" y="74.69" width="1.1" height="3.4" fill="#1c1c1c"/>
<rect x="532.20" y="74.64" width="3.8" height="3.5" rx="0.6" fill="#458b00"/>
<line x1="506.50" y1="86.16" x2="540.40" y2="86.16" stroke="#1c1c1c" stroke-width="1.35"/>
<rect x="505.95" y="84.45" width="1.1" height="3.4" fill="#1c1c1c"/>
<rect x="539.85" y="84.45" width="1.1" height="3.4" fill="#1c1c1c"/>
<rect x="521.30" y="84.41" width="3.8" height="3.5" rx="0.6" fill="#458b00"/>
<line x1="500.50" y1="105.69" x2="565.30" y2="105.69" stroke="#1c1c1c" stroke-width="1.35"/>
<rect x="499.95" y="103.98" width="1.1" height="3.4" fill="#1c1c1c"/>
<rect x="564.75" y="103.98" width="1.1" height="3.4" fill="#1c1c1c"/>
<rect x="531.20" y="103.94" width="3.8" height="3.5" rx="0.6" fill="#458b00"/>
<line x1="505.50" y1="115.45" x2="565.60" y2="115.45" stroke="#1c1c1c" stroke-width="1.35"/>
<rect x="504.95" y="113.75" width="1.1" height="3.4" fill="#1c1c1c"/>
<rect x="565.05" y="113.75" width="1.1" height="3.4" fill="#1c1c1c"/>
<rect x="533.50" y="113.70" width="3.8" height="3.5" rx="0.6" fill="#458b00"/>
<line x1="500.60" y1="125.22" x2="557.00" y2="125.22" stroke="#1c1c1c" stroke-width="1.35"/>
<rect x="500.05" y="123.52" width="1.1" height="3.4" fill="#1c1c1c"/>
<rect x="556.45" y="123.52" width="1.1" height="3.4" fill="#1c1c1c"/>
<rect x="527.00" y="123.47" width="3.8" height="3.5" rx="0.6" fill="#458b00"/>
<line x1="522.40" y1="144.75" x2="535.10" y2="144.75" stroke="#1c1c1c" stroke-width="1.35"/>
<rect x="521.85" y="143.05" width="1.1" height="3.4" fill="#1c1c1c"/>
<rect x="534.55" y="143.05" width="1.1" height="3.4" fill="#1c1c1c"/>
<rect x="526.80" y="143.00" width="3.8" height="3.5" rx="0.6" fill="#458b00"/>
<line x1="507.80" y1="154.51" x2="559.50" y2="154.51" stroke="#1c1c1c" stroke-width="1.35"/>
<rect x="507.25" y="152.81" width="1.1" height="3.4" fill="#1c1c1c"/>
<rect x="558.95" y="152.81" width="1.1" height="3.4" fill="#1c1c1c"/>
<rect x="531.70" y="152.76" width="3.8" height="3.5" rx="0.6" fill="#458b00"/>
<line x1="509.50" y1="164.28" x2="542.10" y2="164.28" stroke="#1c1c1c" stroke-width="1.35"/>
<rect x="508.95" y="162.58" width="1.1" height="3.4" fill="#1c1c1c"/>
<rect x="541.55" y="162.58" width="1.1" height="3.4" fill="#1c1c1c"/>
<rect x="523.80" y="162.53" width="3.8" height="3.5" rx="0.6" fill="#458b00"/>
<line x1="485.40" y1="183.81" x2="522.00" y2="183.81" stroke="#1c1c1c" stroke-width="1.35"/>
<rect x="484.85" y="182.11" width="1.1" height="3.4" fill="#1c1c1c"/>
<rect x="521.45" y="182.11" width="1.1" height="3.4" fill="#1c1c1c"/>
<rect x="502.10" y="182.06" width="3.8" height="3.5" rx="0.6" fill="#458b00"/>
<line x1="476.40" y1="193.57" x2="526.20" y2="193.57" stroke="#1c1c1c" stroke-width="1.35"/>
<rect x="475.85" y="191.87" width="1.1" height="3.4" fill="#1c1c1c"/>
<rect x="525.65" y="191.87" width="1.1" height="3.4" fill="#1c1c1c"/>
<rect x="499.20" y="191.82" width="3.8" height="3.5" rx="0.6" fill="#458b00"/>
<line x1="497.60" y1="203.34" x2="524.50" y2="203.34" stroke="#1c1c1c" stroke-width="1.35"/>
<rect x="497.05" y="201.64" width="1.1" height="3.4" fill="#1c1c1c"/>
<rect x="523.95" y="201.64" width="1.1" height="3.4" fill="#1c1c1c"/>
<rect x="509.10" y="201.59" width="3.8" height="3.5" rx="0.6" fill="#458b00"/>
<line x1="480.60" y1="222.87" x2="525.70" y2="222.87" stroke="#1c1c1c" stroke-width="1.35"/>
<rect x="480.05" y="221.17" width="1.1" height="3.4" fill="#1c1c1c"/>
<rect x="525.15" y="221.17" width="1.1" height="3.4" fill="#1c1c1c"/>
<rect x="501.20" y="221.12" width="3.8" height="3.5" rx="0.6" fill="#458b00"/>
<line x1="480.10" y1="232.63" x2="529.00" y2="232.63" stroke="#1c1c1c" stroke-width="1.35"/>
<rect x="479.55" y="230.93" width="1.1" height="3.4" fill="#1c1c1c"/>
<rect x="528.45" y="230.93" width="1.1" height="3.4" fill="#1c1c1c"/>
<rect x="502.60" y="230.88" width="3.8" height="3.5" rx="0.6" fill="#458b00"/>
<line x1="487.20" y1="242.40" x2="503.50" y2="242.40" stroke="#1c1c1c" stroke-width="1.35"/>
<rect x="486.65" y="240.70" width="1.1" height="3.4" fill="#1c1c1c"/>
<rect x="502.95" y="240.70" width="1.1" height="3.4" fill="#1c1c1c"/>
<rect x="493.20" y="240.65" width="3.8" height="3.5" rx="0.6" fill="#458b00"/>
<line x1="485.60" y1="261.93" x2="524.50" y2="261.93" stroke="#1c1c1c" stroke-width="1.35"/>
<rect x="485.05" y="260.23" width="1.1" height="3.4" fill="#1c1c1c"/>
<rect x="523.95" y="260.23" width="1.1" height="3.4" fill="#1c1c1c"/>
<rect x="502.90" y="260.18" width="3.8" height="3.5" rx="0.6" fill="#458b00"/>
<line x1="478.40" y1="271.69" x2="527.70" y2="271.69" stroke="#1c1c1c" stroke-width="1.35"/>
<rect x="477.85" y="269.99" width="1.1" height="3.4" fill="#1c1c1c"/>
<rect x="527.15" y="269.99" width="1.1" height="3.4" fill="#1c1c1c"/>
<rect x="500.70" y="269.94" width="3.8" height="3.5" rx="0.6" fill="#458b00"/>
<line x1="487.60" y1="281.46" x2="528.20" y2="281.46" stroke="#1c1c1c" stroke-width="1.35"/>
<rect x="487.05" y="279.76" width="1.1" height="3.4" fill="#1c1c1c"/>
<rect x="527.65" y="279.76" width="1.1" height="3.4" fill="#1c1c1c"/>
<rect x="505.90" y="279.71" width="3.8" height="3.5" rx="0.6" fill="#458b00"/>
<path d="M539.80 140.10L539.80 144.30M538.37 141.38L541.23 143.02M541.23 141.38L538.37 143.02" stroke="#5a5a5a" stroke-width="1.0" fill="none"/>
<path d="M480.40 240.30L480.40 244.50M478.97 241.58L481.83 243.22M481.83 241.58L478.97 243.22" stroke="#5a5a5a" stroke-width="1.0" fill="none"/>
<line x1="470.05" y1="286.00" x2="565.25" y2="286.00" stroke="#1c1c1c" stroke-width="1.3"/>
<line x1="470.70" y1="286.00" x2="470.70" y2="292.00" stroke="#1c1c1c" stroke-width="1.3"/>
<line x1="494.10" y1="286.00" x2="494.10" y2="292.00" stroke="#1c1c1c" stroke-width="1.3"/>
<line x1="517.40" y1="286.00" x2="517.40" y2="292.00" stroke="#1c1c1c" stroke-width="1.3"/>
<line x1="541.30" y1="286.00" x2="541.30" y2="292.00" stroke="#1c1c1c" stroke-width="1.3"/>
<line x1="564.60" y1="286.00" x2="564.60" y2="292.00" stroke="#1c1c1c" stroke-width="1.3"/>
<text transform="translate(470.70,304.25) scale(1,1.08)" font-family="Liberation Sans, sans-serif" font-size="8.0" fill="#1a1a1a" text-anchor="middle">−1</text>
<text transform="translate(494.10,304.25) scale(1,1.08)" font-family="Liberation Sans, sans-serif" font-size="8.0" fill="#1a1a1a" text-anchor="middle">−0.5</text>
<text transform="translate(517.40,304.25) scale(1,1.08)" font-family="Liberation Sans, sans-serif" font-size="8.0" fill="#1a1a1a" text-anchor="middle">0</text>
<text transform="translate(541.30,304.25) scale(1,1.08)" font-family="Liberation Sans, sans-serif" font-size="8.0" fill="#1a1a1a" text-anchor="middle">0.5</text>
<text transform="translate(564.60,304.25) scale(1,1.08)" font-family="Liberation Sans, sans-serif" font-size="8.0" fill="#1a1a1a" text-anchor="middle">1</text>
<text x="487.20" y="15.55" font-family="Liberation Serif, serif" font-weight="bold" font-size="9.5" fill="#1a1a1a">(E)</text>
<text x="518.60" y="319.40" font-family="Liberation Sans, sans-serif" font-weight="bold" font-size="9.8" fill="#111" text-anchor="middle">TT4</text>
<line x1="622.90" y1="21.10" x2="622.90" y2="284.70" stroke="#a9d9e1" stroke-width="1.7"/>
<line x1="589.60" y1="26.16" x2="628.50" y2="26.16" stroke="#1c1c1c" stroke-width="1.35"/>
<rect x="589.05" y="24.46" width="1.1" height="3.4" fill="#1c1c1c"/>
<rect x="627.95" y="24.46" width="1.1" height="3.4" fill="#1c1c1c"/>
<rect x="606.90" y="24.41" width="3.8" height="3.5" rx="0.6" fill="#458b00"/>
<line x1="594.60" y1="35.93" x2="633.20" y2="35.93" stroke="#1c1c1c" stroke-width="1.35"/>
<rect x="594.05" y="34.23" width="1.1" height="3.4" fill="#1c1c1c"/>
<rect x="632.65" y="34.23" width="1.1" height="3.4" fill="#1c1c1c"/>
<rect x="611.90" y="34.18" width="3.8" height="3.5" rx="0.6" fill="#458b00"/>
<line x1="593.20" y1="45.70" x2="615.60" y2="45.70" stroke="#1c1c1c" stroke-width="1.35"/>
<rect x="592.65" y="43.99" width="1.1" height="3.4" fill="#1c1c1c"/>
<rect x="615.05" y="43.99" width="1.1" height="3.4" fill="#1c1c1c"/>
<rect x="602.50" y="43.95" width="3.8" height="3.5" rx="0.6" fill="#458b00"/>
<line x1="612.60" y1="65.22" x2="665.50" y2="65.22" stroke="#1c1c1c" stroke-width="1.35"/>
<rect x="612.05" y="63.52" width="1.1" height="3.4" fill="#1c1c1c"/>
<rect x="664.95" y="63.52" width="1.1" height="3.4" fill="#1c1c1c"/>
<rect x="639.00" y="63.47" width="3.8" height="3.5" rx="0.6" fill="#458b00"/>
<line x1="618.00" y1="74.99" x2="674.60" y2="74.99" stroke="#1c1c1c" stroke-width="1.35"/>
<rect x="617.45" y="73.29" width="1.1" height="3.4" fill="#1c1c1c"/>
<rect x="674.05" y="73.29" width="1.1" height="3.4" fill="#1c1c1c"/>
<rect x="644.30" y="73.24" width="3.8" height="3.5" rx="0.6" fill="#458b00"/>
<line x1="613.10" y1="84.75" x2="654.90" y2="84.75" stroke="#1c1c1c" stroke-width="1.35"/>
<rect x="612.55" y="83.05" width="1.1" height="3.4" fill="#1c1c1c"/>
<rect x="654.35" y="83.05" width="1.1" height="3.4" fill="#1c1c1c"/>
<rect x="632.00" y="83.00" width="3.8" height="3.5" rx="0.6" fill="#458b00"/>
<line x1="607.40" y1="104.28" x2="662.40" y2="104.28" stroke="#1c1c1c" stroke-width="1.35"/>
<rect x="606.85" y="102.58" width="1.1" height="3.4" fill="#1c1c1c"/>
<rect x="661.85" y="102.58" width="1.1" height="3.4" fill="#1c1c1c"/>
<rect x="632.80" y="102.53" width="3.8" height="3.5" rx="0.6" fill="#458b00"/>
<line x1="613.10" y1="114.05" x2="662.10" y2="114.05" stroke="#1c1c1c" stroke-width="1.35"/>
<rect x="612.55" y="112.35" width="1.1" height="3.4" fill="#1c1c1c"/>
<rect x="661.55" y="112.35" width="1.1" height="3.4" fill="#1c1c1c"/>
<rect x="635.60" y="112.30" width="3.8" height="3.5" rx="0.6" fill="#458b00"/>
<line x1="613.10" y1="123.81" x2="645.20" y2="123.81" stroke="#1c1c1c" stroke-width="1.35"/>
<rect x="612.55" y="122.11" width="1.1" height="3.4" fill="#1c1c1c"/>
<rect x="644.65" y="122.11" width="1.1" height="3.4" fill="#1c1c1c"/>
<rect x="626.90" y="122.06" width="3.8" height="3.5" rx="0.6" fill="#458b00"/>
<line x1="619.50" y1="143.34" x2="636.50" y2="143.34" stroke="#1c1c1c" stroke-width="1.35"/>
<rect x="618.95" y="141.65" width="1.1" height="3.4" fill="#1c1c1c"/>
<rect x="635.95" y="141.65" width="1.1" height="3.4" fill="#1c1c1c"/>
<rect x="625.80" y="141.59" width="3.8" height="3.5" rx="0.6" fill="#458b00"/>
<line x1="614.50" y1="153.11" x2="648.70" y2="153.11" stroke="#1c1c1c" stroke-width="1.35"/>
<rect x="613.95" y="151.41" width="1.1" height="3.4" fill="#1c1c1c"/>
<rect x="648.15" y="151.41" width="1.1" height="3.4" fill="#1c1c1c"/>
<rect x="629.60" y="151.36" width="3.8" height="3.5" rx="0.6" fill="#458b00"/>
<line x1="609.80" y1="162.88" x2="624.50" y2="162.88" stroke="#1c1c1c" stroke-width="1.35"/>
<rect x="609.25" y="161.18" width="1.1" height="3.4" fill="#1c1c1c"/>
<rect x="623.95" y="161.18" width="1.1" height="3.4" fill="#1c1c1c"/>
<rect x="615.20" y="161.13" width="3.8" height="3.5" rx="0.6" fill="#458b00"/>
<line x1="597.90" y1="182.41" x2="626.30" y2="182.41" stroke="#1c1c1c" stroke-width="1.35"/>
<rect x="625.75" y="180.71" width="1.1" height="3.4" fill="#1c1c1c"/>
<rect x="610.40" y="180.66" width="3.8" height="3.5" rx="0.6" fill="#458b00"/>
<line x1="588.60" y1="192.17" x2="626.30" y2="192.17" stroke="#1c1c1c" stroke-width="1.35"/>
<rect x="588.05" y="190.47" width="1.1" height="3.4" fill="#1c1c1c"/>
<rect x="625.75" y="190.47" width="1.1" height="3.4" fill="#1c1c1c"/>
<rect x="605.40" y="190.42" width="3.8" height="3.5" rx="0.6" fill="#458b00"/>
<line x1="600.60" y1="201.94" x2="639.40" y2="201.94" stroke="#1c1c1c" stroke-width="1.35"/>
<rect x="600.05" y="200.24" width="1.1" height="3.4" fill="#1c1c1c"/>
<rect x="638.85" y="200.24" width="1.1" height="3.4" fill="#1c1c1c"/>
<rect x="617.90" y="200.19" width="3.8" height="3.5" rx="0.6" fill="#458b00"/>
<line x1="586.70" y1="221.47" x2="629.50" y2="221.47" stroke="#1c1c1c" stroke-width="1.35"/>
<rect x="586.15" y="219.77" width="1.1" height="3.4" fill="#1c1c1c"/>
<rect x="628.95" y="219.77" width="1.1" height="3.4" fill="#1c1c1c"/>
<rect x="606.00" y="219.72" width="3.8" height="3.5" rx="0.6" fill="#458b00"/>
<line x1="592.40" y1="231.23" x2="630.30" y2="231.23" stroke="#1c1c1c" stroke-width="1.35"/>
<rect x="591.85" y="229.53" width="1.1" height="3.4" fill="#1c1c1c"/>
<rect x="629.75" y="229.53" width="1.1" height="3.4" fill="#1c1c1c"/>
<rect x="609.40" y="229.48" width="3.8" height="3.5" rx="0.6" fill="#458b00"/>
<line x1="579.10" y1="241.00" x2="632.70" y2="241.00" stroke="#1c1c1c" stroke-width="1.35"/>
<rect x="578.55" y="239.30" width="1.1" height="3.4" fill="#1c1c1c"/>
<rect x="632.15" y="239.30" width="1.1" height="3.4" fill="#1c1c1c"/>
<rect x="604.00" y="239.25" width="3.8" height="3.5" rx="0.6" fill="#458b00"/>
<line x1="600.40" y1="260.52" x2="630.50" y2="260.52" stroke="#1c1c1c" stroke-width="1.35"/>
<rect x="599.85" y="258.82" width="1.1" height="3.4" fill="#1c1c1c"/>
<rect x="629.95" y="258.82" width="1.1" height="3.4" fill="#1c1c1c"/>
<rect x="612.90" y="258.77" width="3.8" height="3.5" rx="0.6" fill="#458b00"/>
<line x1="589.60" y1="270.29" x2="630.50" y2="270.29" stroke="#1c1c1c" stroke-width="1.35"/>
<rect x="589.05" y="268.59" width="1.1" height="3.4" fill="#1c1c1c"/>
<rect x="629.95" y="268.59" width="1.1" height="3.4" fill="#1c1c1c"/>
<rect x="607.70" y="268.54" width="3.8" height="3.5" rx="0.6" fill="#458b00"/>
<line x1="606.70" y1="280.06" x2="629.10" y2="280.06" stroke="#1c1c1c" stroke-width="1.35"/>
<rect x="606.15" y="278.36" width="1.1" height="3.4" fill="#1c1c1c"/>
<rect x="628.55" y="278.36" width="1.1" height="3.4" fill="#1c1c1c"/>
<rect x="616.10" y="278.31" width="3.8" height="3.5" rx="0.6" fill="#458b00"/>
<path d="M585.40 42.30L585.40 46.50M583.97 43.57L586.83 45.23M586.83 43.57L583.97 45.23" stroke="#5a5a5a" stroke-width="1.0" fill="none"/>
<line x1="581.05" y1="284.70" x2="664.45" y2="284.70" stroke="#1c1c1c" stroke-width="1.3"/>
<line x1="581.70" y1="284.70" x2="581.70" y2="290.70" stroke="#1c1c1c" stroke-width="1.3"/>
<line x1="602.30" y1="284.70" x2="602.30" y2="290.70" stroke="#1c1c1c" stroke-width="1.3"/>
<line x1="622.80" y1="284.70" x2="622.80" y2="290.70" stroke="#1c1c1c" stroke-width="1.3"/>
<line x1="643.40" y1="284.70" x2="643.40" y2="290.70" stroke="#1c1c1c" stroke-width="1.3"/>
<line x1="663.80" y1="284.70" x2="663.80" y2="290.70" stroke="#1c1c1c" stroke-width="1.3"/>
<text transform="translate(581.70,302.95) scale(1,1.08)" font-family="Liberation Sans, sans-serif" font-size="8.0" fill="#1a1a1a" text-anchor="middle">−1</text>
<text transform="translate(602.30,302.95) scale(1,1.08)" font-family="Liberation Sans, sans-serif" font-size="8.0" fill="#1a1a1a" text-anchor="middle">−0.5</text>
<text transform="translate(622.80,302.95) scale(1,1.08)" font-family="Liberation Sans, sans-serif" font-size="8.0" fill="#1a1a1a" text-anchor="middle">0</text>
<text transform="translate(643.40,302.95) scale(1,1.08)" font-family="Liberation Sans, sans-serif" font-size="8.0" fill="#1a1a1a" text-anchor="middle">0.5</text>
<text transform="translate(663.80,302.95) scale(1,1.08)" font-family="Liberation Sans, sans-serif" font-size="8.0" fill="#1a1a1a" text-anchor="middle">1</text>
<text x="594.50" y="14.65" font-family="Liberation Serif, serif" font-weight="bold" font-size="9.5" fill="#1a1a1a">(F)</text>
<text x="625.10" y="317.90" font-family="Liberation Sans, sans-serif" font-weight="bold" font-size="9.8" fill="#111" text-anchor="middle">TG</text>
</svg></body></html>
